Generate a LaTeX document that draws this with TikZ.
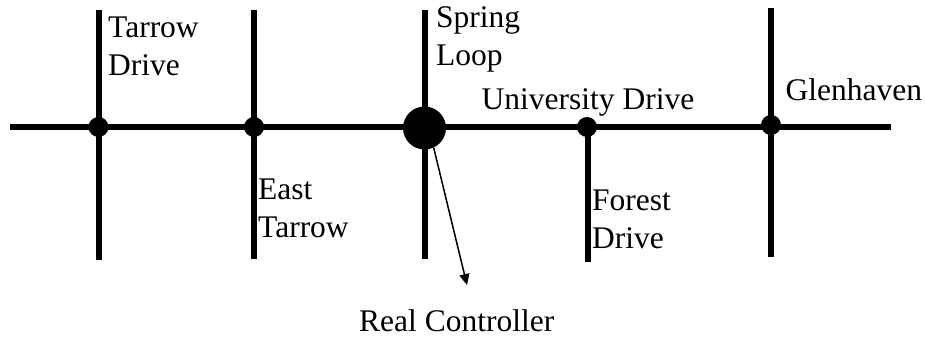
\documentclass[tikz,border=0pt]{standalone}
\usepackage{fontspec}
\setmainfont{Liberation Serif}
\usetikzlibrary{arrows.meta}
\begin{document}
\begin{tikzpicture}[x=1pt,y=-1pt,
road/.style={line width=6pt,black},
dot/.style={circle,fill=black,inner sep=0pt,minimum size=#1},
lbl/.style={anchor=base west,font=\fontsize{31.5}{38}\selectfont,align=left,inner sep=0pt,text=black}]
\useasboundingbox (0,0) rectangle (925,339);
\coordinate (wl) at (10,127.5); \coordinate (wr) at (891,127.5);
\coordinate (a1) at (98.5,10); \coordinate (a2) at (98.5,260);
\coordinate (b1) at (254,10); \coordinate (b2) at (254,259);
\coordinate (c1) at (424.5,10); \coordinate (c2) at (424.5,259);
\coordinate (d1) at (587.5,127); \coordinate (d2) at (587.5,262);
\coordinate (e1) at (771,8); \coordinate (e2) at (771,257);
\draw[road] (wl) -- (wr);
\draw[road] (a1) -- (a2);
\draw[road] (b1) -- (b2);
\draw[road] (c1) -- (c2);
\draw[road] (d1) -- (d2);
\draw[road] (e1) -- (e2);
\node[dot=20pt] (n1) at (98.5,127) {};
\node[dot=20pt] (n2) at (254,127) {};
\node[dot=43pt] (n3) at (424.5,128) {};
\node[dot=20pt] (n4) at (587,127) {};
\node[dot=20pt] (n5) at (771,125) {};
\coordinate (t) at (467,285);
\draw[line width=1.5pt,-{Stealth[length=11pt,width=10pt,inset=0pt]}] (n3.-65) -- (t);
\node[lbl] (l1) at (108,76) {Tarrow\\Drive};
\node[lbl] (l2) at (258,237) {East\\Tarrow};
\node[lbl] (l3) at (436,65.5) {Spring\\Loop};
\node[lbl] (l4) at (481.5,110) {University Drive};
\node[lbl] (l5) at (592,248) {Forest\\Drive};
\node[lbl] (l6) at (785.5,101) {Glenhaven};
\node[lbl] (l7) at (359,331) {Real Controller};
\end{tikzpicture}
\end{document}
